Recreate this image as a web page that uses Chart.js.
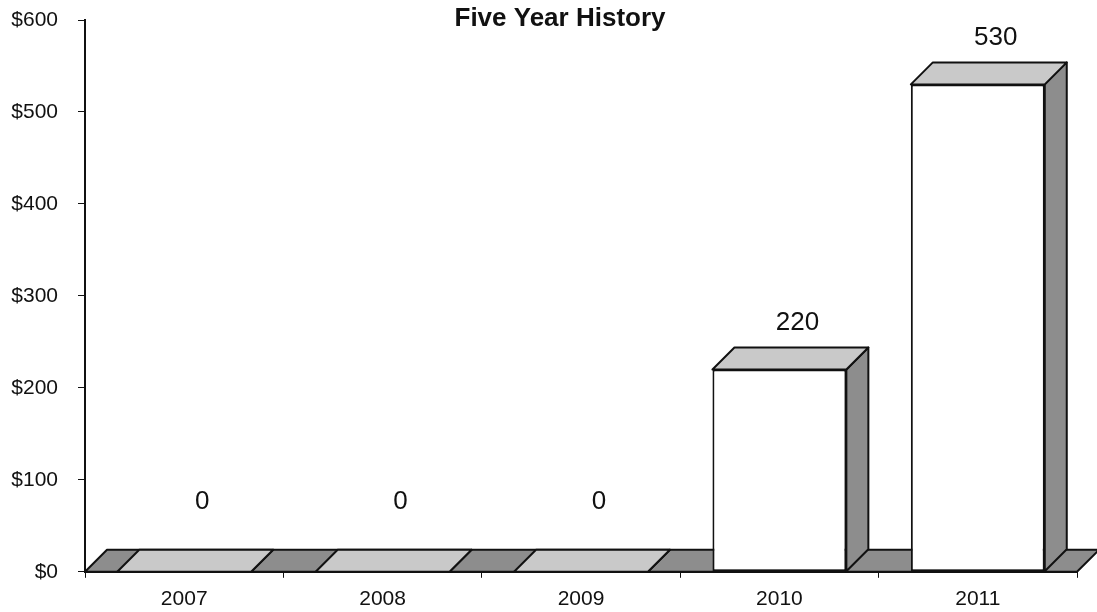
<!DOCTYPE html>
<html>
<head>
<meta charset="utf-8">
<title>Five Year History</title>
<script src="https://cdn.jsdelivr.net/npm/chart.js@4.4.1/dist/chart.umd.min.js"></script>
<style>
  html, body { margin: 0; padding: 0; background: #fff; }
  #wrap { width: 1097px; height: 612px; position: relative; }
</style>
</head>
<body>
<div id="wrap"><canvas id="historyChart"></canvas></div>
<script>
// chart data
const years = ['2007', '2008', '2009', '2010', '2011'];
const amounts = [0, 0, 0, 220, 530];
const yTicks = [0, 100, 200, 300, 400, 500, 600];
const chartTitle = 'Five Year History';

const FONT = "'Liberation Sans', Arial, sans-serif";
const DEPTH = 22;
const TOP_GRAY = '#c9c9c9';
const SIDE_GRAY = '#8d8d8d';

function poly(ctx, pts, fill) {
    ctx.beginPath();
    ctx.moveTo(pts[0][0], pts[0][1]);
    for (let i = 1; i < pts.length; i++) ctx.lineTo(pts[i][0], pts[i][1]);
    ctx.closePath();
    ctx.fillStyle = fill;
    ctx.fill();
    ctx.stroke();
}

// fake 3d: floor strip, bar tops and sides, value labels, title
const threeD = {
    id: 'threeD',
    beforeDatasetsDraw(chart) {
        const ctx = chart.ctx;
        const area = chart.chartArea;
        const y0 = chart.scales.y.getPixelForValue(0);
        ctx.save();
        ctx.strokeStyle = '#111';
        ctx.lineWidth = 2;
        ctx.lineJoin = 'round';
        poly(ctx, [[area.left, y0], [area.right, y0], [area.right + DEPTH, y0 - DEPTH], [area.left + DEPTH, y0 - DEPTH]], SIDE_GRAY);
        ctx.restore();
    },
    afterDatasetsDraw(chart) {
        const ctx = chart.ctx;
        const meta = chart.getDatasetMeta(0);
        ctx.save();
        ctx.strokeStyle = '#111';
        ctx.lineWidth = 2;
        ctx.lineJoin = 'round';
        meta.data.forEach((bar, i) => {
            const p = bar.getProps(['x', 'y', 'base', 'width'], true);
            const l = p.x - p.width / 2;
            const r = p.x + p.width / 2;
            poly(ctx, [[r, p.y], [r + DEPTH, p.y - DEPTH], [r + DEPTH, p.base - DEPTH], [r, p.base]], SIDE_GRAY);
            poly(ctx, [[l, p.y], [r, p.y], [r + DEPTH, p.y - DEPTH], [l + DEPTH, p.y - DEPTH]], TOP_GRAY);

            const lift = amounts[i] === 0 ? 70 : 47;
            ctx.fillStyle = '#111';
            ctx.font = '26px ' + FONT;
            ctx.textAlign = 'center';
            ctx.textBaseline = 'middle';
            ctx.fillText(String(amounts[i]), p.x + 18, p.y - lift);
        });
        ctx.restore();
    },
    afterDraw(chart) {
        const ctx = chart.ctx;
        ctx.save();
        ctx.fillStyle = '#111';
        ctx.font = 'bold 26px ' + FONT;
        ctx.textAlign = 'center';
        ctx.textBaseline = 'middle';
        ctx.fillText(chartTitle, 560, 19);
        ctx.restore();
    }
};

new Chart(document.getElementById('historyChart'), {
    type: 'bar',
    data: {
        labels: years,
        datasets: [{
            data: amounts,
            backgroundColor: '#ffffff',
            borderColor: '#111',
            borderWidth: 2,
            borderSkipped: false,
            barPercentage: 0.675,
            categoryPercentage: 1.0
        }]
    },
    options: {
        responsive: true,
        maintainAspectRatio: false,
        animation: false,
        layout: { padding: { top: 20, right: 20, bottom: -9, left: 0 } },
        plugins: {
            legend: { display: false },
            tooltip: { enabled: false },
            title: { display: false }
        },
        scales: {
            x: {
                offset: true,
                border: { display: true, color: '#111', width: 2 },
                grid: { display: true, drawOnChartArea: false, drawTicks: true, tickLength: 6, color: '#111', offset: true },
                ticks: { color: '#111', font: { family: FONT, size: 21 }, padding: 9, maxRotation: 0 }
            },
            y: {
                min: 0,
                max: 600,
                afterFit: s => {
                    s.width = 85;
                    s.paddingTop = 0;
                    s.paddingBottom = 0;
                },
                afterBuildTicks: s => { s.ticks = yTicks.map(v => ({ value: v })); },
                border: { display: true, color: '#111', width: 2 },
                grid: { display: true, drawOnChartArea: false, drawTicks: true, tickLength: 7, color: '#111' },
                ticks: {
                    color: '#111',
                    font: { family: FONT, size: 21 },
                    padding: 20,
                    callback: v => '$' + v
                }
            }
        }
    },
    plugins: [threeD]
});
</script>
</body>
</html>
